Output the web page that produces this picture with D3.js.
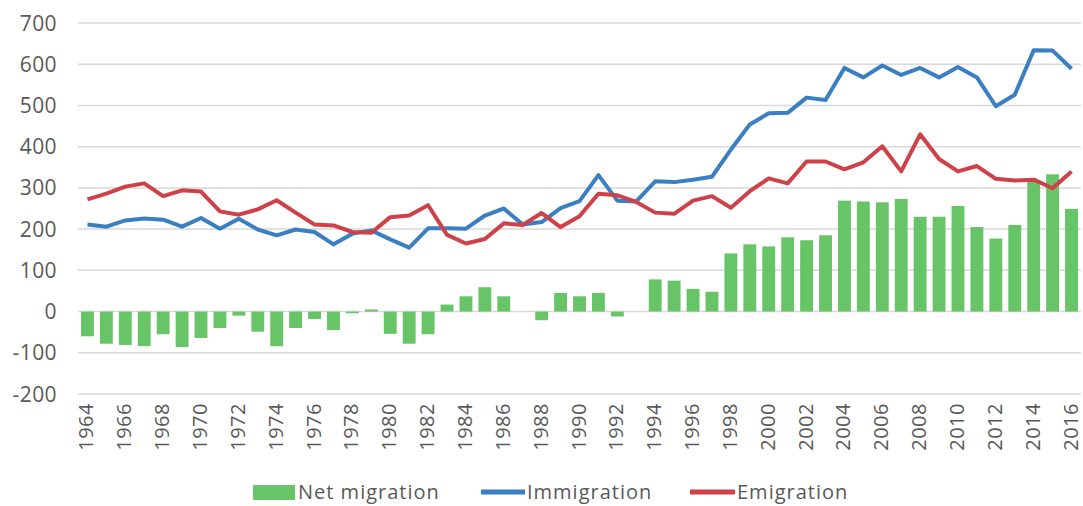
<!DOCTYPE html>
<html>
<head>
<meta charset="utf-8">
<script src="https://cdn.jsdelivr.net/npm/d3@7"></script>
<style>
  body { margin: 0; background: #fff; }
  svg text { font-family: "Open Sans", sans-serif; fill: #595959; }
</style>
</head>
<body>
<svg id="chart" width="1083" height="506"></svg>
<script>
// years on the x axis
const years = d3.range(1964, 2017)

// net migration (thousands)
const netMigration = [
  -60, -78, -81, -84, -55, -86, -64, -40, -10, -49,
  -84, -40, -18, -45, -4, 5, -54, -78, -55, 17,
  37, 59, 37, 0, -21, 45, 37, 45, -12, 0,
  78, 75, 55, 48, 141, 163, 158, 180, 173, 185,
  269, 267, 265, 273, 230, 230, 256, 205, 177, 210,
  318, 333, 249
]

const immigration = [
  211, 206, 221, 226, 223, 206, 227, 201, 225, 199,
  185, 199, 193, 163, 189, 197, 175, 155, 202, 202,
  201, 233, 250, 211, 217, 251, 268, 331, 269, 267,
  316, 314, 320, 327, 393, 454, 481, 482, 519, 513,
  591, 568, 597, 574, 591, 568, 593, 568, 498, 526,
  634, 633, 589
]

const emigration = [
  272, 286, 303, 311, 280, 294, 291, 243, 235, 248,
  270, 240, 211, 209, 193, 191, 229, 233, 258, 186,
  165, 176, 214, 210, 239, 205, 231, 286, 282, 266,
  240, 237, 269, 280, 252, 292, 323, 311, 364, 364,
  345, 362, 401, 340, 430, 370, 340, 353, 322, 318,
  320, 299, 340
]

const yTicks = [-200, -100, 0, 100, 200, 300, 400, 500, 600, 700]

const colors = { net: '#67c467', imm: '#3a7fc2', emi: '#cf4148' }

const svg = d3.select('#chart')
const margin = { left: 78, right: 2, top: 23, bottom: 112 }
const width = 1083 - margin.left - margin.right
const height = 506 - margin.top - margin.bottom

const x = d3.scaleBand().domain(years).range([margin.left, margin.left + width]).paddingInner(0.32).paddingOuter(0.16)
const y = d3.scaleLinear().domain([-200, 700]).range([margin.top + height, margin.top])

// gridlines
svg.append('g').selectAll('line')
  .data(yTicks)
  .enter().append('line')
  .attr('x1', margin.left).attr('x2', margin.left + width)
  .attr('y1', d => y(d)).attr('y2', d => y(d))
  .attr('stroke', '#d9d9d9').attr('stroke-width', 1.5)

// y axis labels
svg.append('g').selectAll('text')
  .data(yTicks)
  .enter().append('text')
  .attr('x', 57).attr('y', d => y(d))
  .attr('dy', '0.36em')
  .attr('text-anchor', 'end')
  .style('font-size', '21px')
  .style('letter-spacing', '0.4px')
  .text(d => d)

// x axis labels, every second year
svg.append('g').selectAll('text')
  .data(years.filter(yr => (yr - 1964) % 2 === 0))
  .enter().append('text')
  .attr('transform', d => `translate(${x(d) + x.bandwidth() / 2 + 6},403) rotate(-90)`)
  .attr('text-anchor', 'end')
  .style('font-size', '20px')
  .style('letter-spacing', '0.5px')
  .text(d => d)

// bars
svg.append('g').selectAll('rect')
  .data(years)
  .enter().append('rect')
  .attr('x', d => x(d))
  .attr('width', x.bandwidth())
  .attr('y', (d, i) => y(Math.max(0, netMigration[i])))
  .attr('height', (d, i) => Math.abs(y(netMigration[i]) - y(0)))
  .attr('fill', colors.net)

const line = d3.line()
  .x((d, i) => x(years[i]) + x.bandwidth() / 2)
  .y(d => y(d))

svg.append('path').datum(immigration)
  .attr('d', line).attr('fill', 'none')
  .attr('stroke', colors.imm).attr('stroke-width', 4).attr('stroke-linejoin', 'round')

svg.append('path').datum(emigration)
  .attr('d', line).attr('fill', 'none')
  .attr('stroke', colors.emi).attr('stroke-width', 4).attr('stroke-linejoin', 'round')

// legend
const legend = svg.append('g').attr('transform', 'translate(0,492)')
legend.append('rect').attr('x', 253).attr('y', -7).attr('width', 42).attr('height', 15).attr('fill', colors.net)
legend.append('text').attr('x', 298).attr('dy', '0.34em').style('font-size', '20px').style('letter-spacing', '1px').text('Net migration')
legend.append('line').attr('x1', 481).attr('x2', 525).attr('stroke', colors.imm).attr('stroke-width', 5)
legend.append('text').attr('x', 527).attr('dy', '0.34em').style('font-size', '20px').style('letter-spacing', '1px').text('Immigration')
legend.append('line').attr('x1', 690).attr('x2', 735).attr('stroke', colors.emi).attr('stroke-width', 5)
legend.append('text').attr('x', 737).attr('dy', '0.34em').style('font-size', '20px').style('letter-spacing', '1px').text('Emigration')
</script>
</body>
</html>
